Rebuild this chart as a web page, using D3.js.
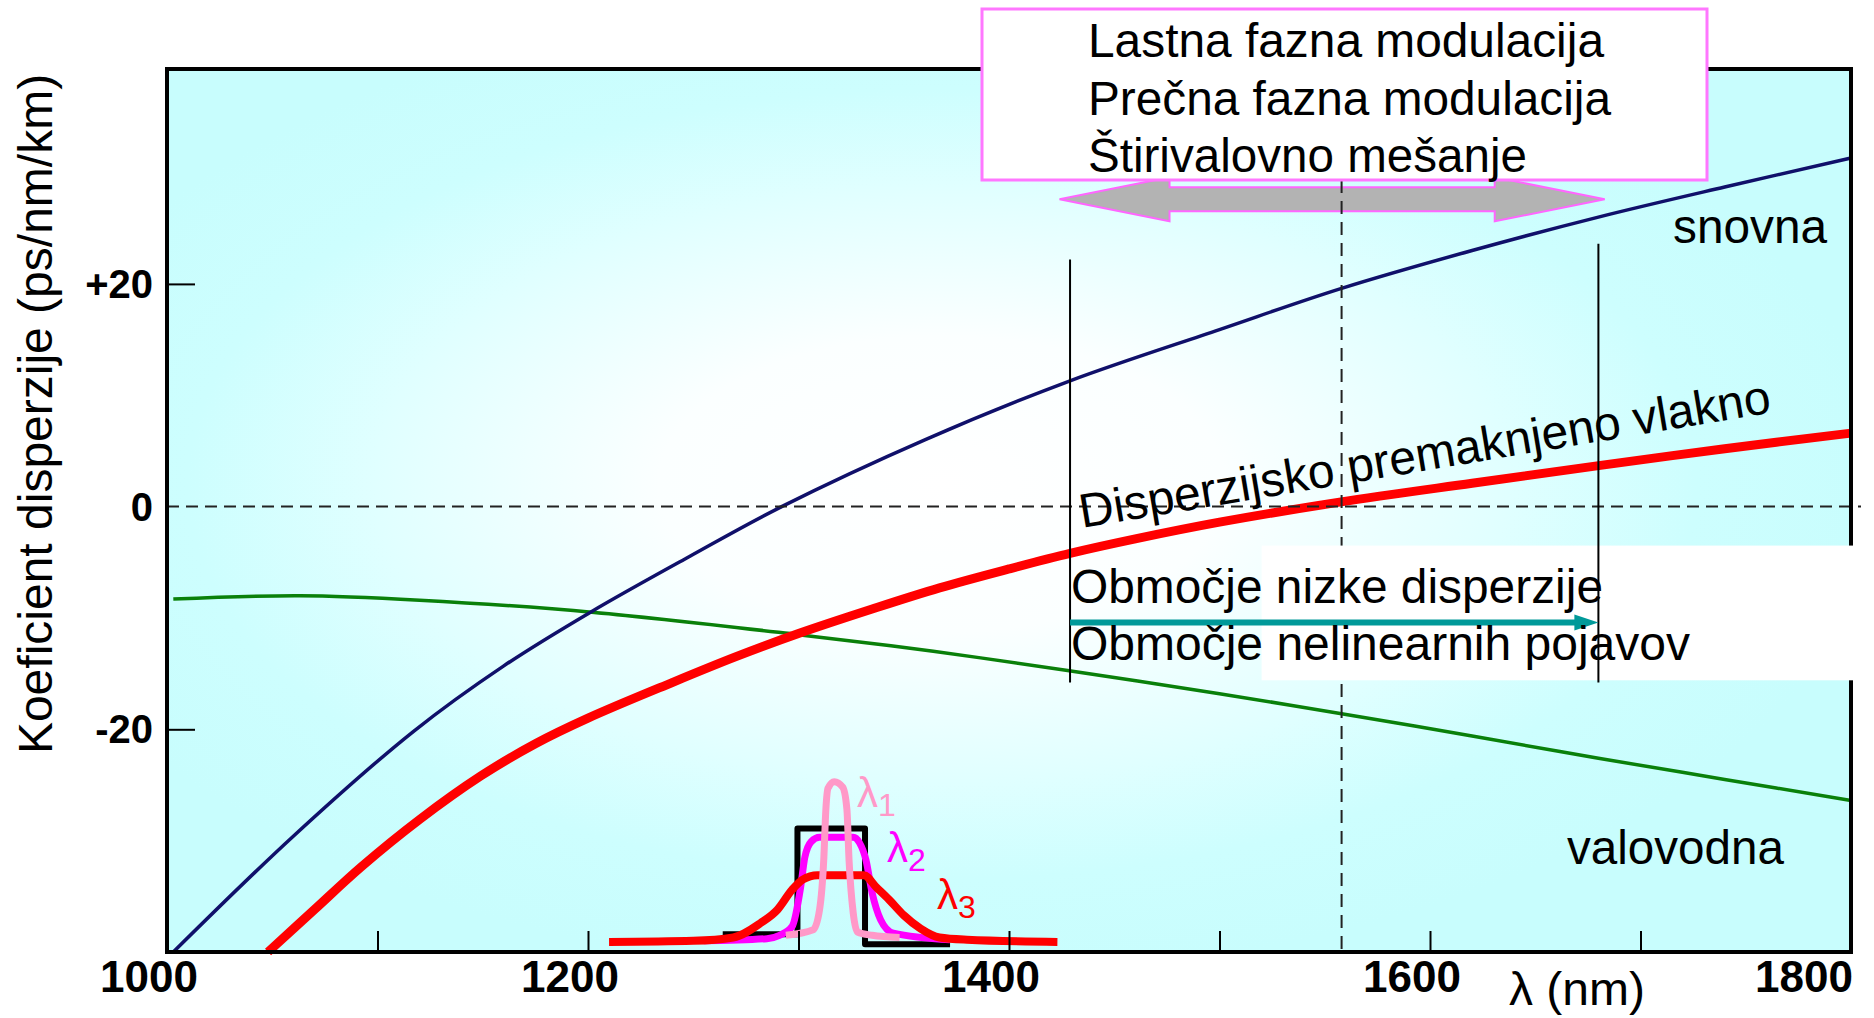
<!DOCTYPE html>
<html>
<head>
<meta charset="utf-8">
<script src="https://cdn.jsdelivr.net/npm/d3@7"></script>
<style>
  html, body { margin: 0; padding: 0; background: #fff; }
  svg { display: block; font-family: "Liberation Sans", Arial, sans-serif; }
</style>
</head>
<body>
<svg id="chart" width="1874" height="1018"></svg>
<script>
// Dispersion curves, [wavelength nm, D ps/nm/km]
const snovna = [[1003,-40],[1060,-29.6],[1117,-20.2],[1160,-14.3],[1201,-9.5],[1248,-4.5],[1292,0],[1360,6],
    [1429,11.3],[1500,15.9],[1558,19.6],[1620,23],[1680,26],[1740,28.7],[1800,31.3]];
const valovodna = [[1003,-8.3],[1063,-8.0],[1120,-8.4],[1203,-9.5],[1300,-11.5],[1364,-13.0],[1427,-14.7],[1500,-16.8],
    [1558,-18.6],[1620,-20.6],[1680,-22.6],[1740,-24.5],[1800,-26.4]];
const premaknjeno = [[1048,-40],[1070,-36.2],[1092,-32.4],[1120,-28.1],[1149,-24.2],[1175,-21.3],[1200,-19.0],
    [1240,-15.8],[1270,-13.5],[1300,-11.4],[1335,-9.2],[1367,-7.3],[1400,-5.6],[1429,-4.2],[1460,-2.9],[1500,-1.4],
    [1557,0.4],[1620,2.1],[1681,3.7],[1740,5.2],[1800,6.6]];

// Pulse sketches near 1310 nm
const pulseInput = [[1264,-38.4],[1299.5,-38.4],[1299.5,-28.9],[1331.6,-28.9],[1331.6,-39.3],[1372,-39.3]];
const pulse1 = [[1294,-38.5],[1307,-38.0],[1310,-36.2],[1312,-31.7],[1313,-27.2],[1314,-25.3],[1317,-24.7],[1321,-25.2],
    [1323,-27.2],[1324,-31.7],[1326,-36.5],[1328,-38.2],[1335,-38.5],[1348,-38.7]];
const pulse2 = [[1255,-39.0],[1285,-38.8],[1291,-38.5],[1297,-37.7],[1301,-34.2],[1303,-31.5],[1306,-30.1],[1310,-29.7],
    [1326,-29.7],[1329,-30.2],[1332,-31.7],[1335,-34.7],[1339,-37.1],[1345,-38.3],[1372,-38.9]];
const pulse3 = [[1210,-39.1],[1250,-39.0],[1269,-38.7],[1282,-37.4],[1290,-36.2],[1297,-34.4],[1302,-33.5],[1309,-33.1],
    [1331,-33.1],[1337,-34.2],[1343,-35.3],[1350,-36.7],[1358,-37.9],[1367,-38.7],[1380,-38.9],[1423,-39.1]];

// Axis ticks and labels
const xTickValues = [1100, 1200, 1300, 1400, 1500, 1600, 1700];
const xLabels = [1000, 1200, 1400, 1600, 1800];
const yTickValues = [20, -20];
const yLabels = [[20, "+20"], [0, "0"], [-20, "-20"]];

// Marked wavelengths
const zeroDispersion = 1558;
const lowDispersionBand = [1429, 1680];
const nonlinearBand = [1424, 1683];

const nonlinearEffects = ["Lastna fazna modulacija", "Prečna fazna modulacija", "Štirivalovno mešanje"];
const effectWidths = [516, 523, 439];

const svg = d3.select("#chart");
const mLeft = 167, mRight = 1851, mTop = 69, mBottom = 952;

const x = d3.scaleLinear().domain([1000, 1800]).range([mLeft, mRight]);
const y = d3.scaleLinear().domain([-40, 39.3]).range([mBottom, mTop]);

// background gradient
const defs = svg.append("defs");
const grad = defs.append("radialGradient").attr("id", "bg")
    .attr("cx", 0.46).attr("cy", 0.47).attr("r", 0.56);
grad.append("stop").attr("offset", "0").attr("stop-color", "#ffffff");
grad.append("stop").attr("offset", "0.3").attr("stop-color", "#fbffff");
grad.append("stop").attr("offset", "0.6").attr("stop-color", "#e0ffff");
grad.append("stop").attr("offset", "0.8").attr("stop-color", "#cdfefe");
grad.append("stop").attr("offset", "1").attr("stop-color", "#c8fdfd");

svg.append("rect").attr("x", mLeft).attr("y", mTop).attr("width", mRight - mLeft).attr("height", mBottom - mTop)
    .attr("fill", "url(#bg)");

const line = d3.line().x(d => x(d[0])).y(d => y(d[1])).curve(d3.curveCatmullRom.alpha(0.5));
const pulseCurve = d3.line().x(d => x(d[0])).y(d => y(d[1])).curve(d3.curveMonotoneX);
const plot = svg.append("g");

plot.append("path").datum(valovodna).attr("d", line).attr("fill", "none").attr("stroke", "#0a800a").attr("stroke-width", 3.5);
plot.append("path").datum(snovna).attr("d", line).attr("fill", "none").attr("stroke", "#10106a").attr("stroke-width", 3.5);
plot.append("path").datum(premaknjeno).attr("d", line).attr("fill", "none").attr("stroke", "#ff0000").attr("stroke-width", 9);

// gray double arrow for nonlinear effects
const ay = y(27.6), ax0 = x(nonlinearBand[0]), ax1 = x(nonlinearBand[1]);
const head = 110, sh = 12, hh = 22;
svg.append("path")
    .attr("d", `M${ax0},${ay} L${ax0 + head},${ay - hh} L${ax0 + head},${ay - sh} L${ax1 - head},${ay - sh}
        L${ax1 - head},${ay - hh} L${ax1},${ay} L${ax1 - head},${ay + hh} L${ax1 - head},${ay + sh}
        L${ax0 + head},${ay + sh} L${ax0 + head},${ay + hh} Z`)
    .attr("fill", "#b3b3b3").attr("stroke", "#ff66ff").attr("stroke-width", 2);

// dashed reference lines
svg.append("line").attr("x1", mLeft).attr("x2", mRight + 10).attr("y1", y(0)).attr("y2", y(0))
    .attr("stroke", "#222").attr("stroke-width", 2).attr("stroke-dasharray", "12,7");
svg.append("line").attr("x1", x(zeroDispersion)).attr("x2", x(zeroDispersion)).attr("y1", 180).attr("y2", mBottom)
    .attr("stroke", "#222").attr("stroke-width", 2).attr("stroke-dasharray", "13,8");

// pulses
const pulseLine = d3.line().x(d => x(d[0])).y(d => y(d[1]));
plot.append("path").datum(pulseInput).attr("d", pulseLine).attr("fill", "none").attr("stroke", "#000")
    .attr("stroke-width", 6).attr("stroke-linejoin", "round");
plot.append("path").datum(pulse2).attr("d", pulseCurve).attr("fill", "none").attr("stroke", "#ff00ff").attr("stroke-width", 7);
plot.append("path").datum(pulse3).attr("d", pulseCurve).attr("fill", "none").attr("stroke", "#ff0000").attr("stroke-width", 8);
plot.append("path").datum(pulse1).attr("d", pulseCurve).attr("fill", "none").attr("stroke", "#ff99c8").attr("stroke-width", 7);

const lam = [["1", 857, 807, "#ff99c8"], ["2", 887, 862, "#ff00ff"], ["3", 937, 909, "#ff0000"]];
lam.forEach(([s, lx, ly, c]) => {
    const t = svg.append("text").attr("x", lx).attr("y", ly).attr("fill", c).attr("font-size", 42);
    t.append("tspan").text("λ");
    t.append("tspan").attr("font-size", 32).attr("dy", 9).text(s);
});

// axes: inward ticks
svg.append("g").attr("transform", `translate(0,${mBottom})`)
    .call(d3.axisBottom(x).tickValues(xTickValues).tickSize(-21).tickFormat(""))
    .call(g => g.select(".domain").remove())
    .call(g => g.selectAll("line").attr("stroke", "#000").attr("stroke-width", 2));
svg.append("g").attr("transform", `translate(${mLeft},0)`)
    .call(d3.axisLeft(y).tickValues(yTickValues).tickSize(-28).tickFormat(""))
    .call(g => g.select(".domain").remove())
    .call(g => g.selectAll("line").attr("stroke", "#000").attr("stroke-width", 2));

// frame
svg.append("rect").attr("x", mLeft).attr("y", mTop).attr("width", mRight - mLeft).attr("height", mBottom - mTop)
    .attr("fill", "none").attr("stroke", "#000").attr("stroke-width", 4);

// white patch behind region labels
svg.append("rect").attr("x", x(1520)).attr("y", y(-3.5)).attr("width", 1874 - x(1520)).attr("height", y(-15.6) - y(-3.5))
    .attr("fill", "#fff");

// low-dispersion band limits
svg.append("line").attr("x1", x(lowDispersionBand[0])).attr("x2", x(lowDispersionBand[0]))
    .attr("y1", y(22.2)).attr("y2", y(-15.8)).attr("stroke", "#000").attr("stroke-width", 2);
svg.append("line").attr("x1", x(lowDispersionBand[1])).attr("x2", x(lowDispersionBand[1]))
    .attr("y1", y(23.6)).attr("y2", y(-15.8)).attr("stroke", "#000").attr("stroke-width", 2);

// teal arrow
const ty = y(-10.4);
svg.append("line").attr("x1", x(lowDispersionBand[0])).attr("x2", x(lowDispersionBand[1]) - 20)
    .attr("y1", ty).attr("y2", ty).attr("stroke", "#009999").attr("stroke-width", 6);
svg.append("path")
    .attr("d", `M${x(lowDispersionBand[1])},${ty} L${x(lowDispersionBand[1]) - 24},${ty - 8} L${x(lowDispersionBand[1]) - 24},${ty + 8} Z`)
    .attr("fill", "#009999");

// info box
svg.append("rect").attr("x", 982).attr("y", 9).attr("width", 725).attr("height", 171)
    .attr("fill", "#fff").attr("stroke", "#ff77ff").attr("stroke-width", 3);
svg.append("g").selectAll("text").data(nonlinearEffects).join("text")
    .attr("x", 1088).attr("y", (d, i) => 57 + i * 57.5)
    .attr("font-size", 48).attr("fill", "#000")
    .attr("textLength", (d, i) => effectWidths[i]).attr("lengthAdjust", "spacingAndGlyphs")
    .text(d => d);

// curve labels
const label = (tx, ty2, str, len) => svg.append("text").attr("x", tx).attr("y", ty2).attr("font-size", 48)
    .attr("textLength", len).attr("lengthAdjust", "spacingAndGlyphs").text(str);
label(1673, 243, "snovna", 154);
label(1567, 864, "valovodna", 217);
label(1071, 603, "Območje nizke disperzije", 532);
label(1071, 660, "Območje nelinearnih pojavov", 619);
svg.append("text").attr("transform", "translate(1082,528) rotate(-9.5)").attr("font-size", 48)
    .attr("textLength", 700).attr("lengthAdjust", "spacingAndGlyphs")
    .text("Disperzijsko premaknjeno vlakno");

// tick labels
svg.append("g").selectAll("text").data(xLabels).join("text")
    .attr("x", d => d === 1800 ? mRight + 2 : x(d) - 18)
    .attr("y", 992).attr("text-anchor", d => d === 1800 ? "end" : "middle")
    .attr("font-size", 44).attr("font-weight", "bold").text(d => d);
svg.append("g").selectAll("text").data(yLabels).join("text")
    .attr("x", 153).attr("y", d => y(d[0]) + 14).attr("text-anchor", "end")
    .attr("font-size", 40).attr("font-weight", "bold").text(d => d[1]);

// axis titles
svg.append("text").attr("transform", "translate(52,414) rotate(-90)").attr("text-anchor", "middle")
    .attr("font-size", 48).text("Koeficient disperzije (ps/nm/km)");
svg.append("text").attr("x", 1509).attr("y", 1005).attr("font-size", 46)
    .attr("textLength", 136).attr("lengthAdjust", "spacingAndGlyphs").text("λ (nm)");
</script>
</body>
</html>
